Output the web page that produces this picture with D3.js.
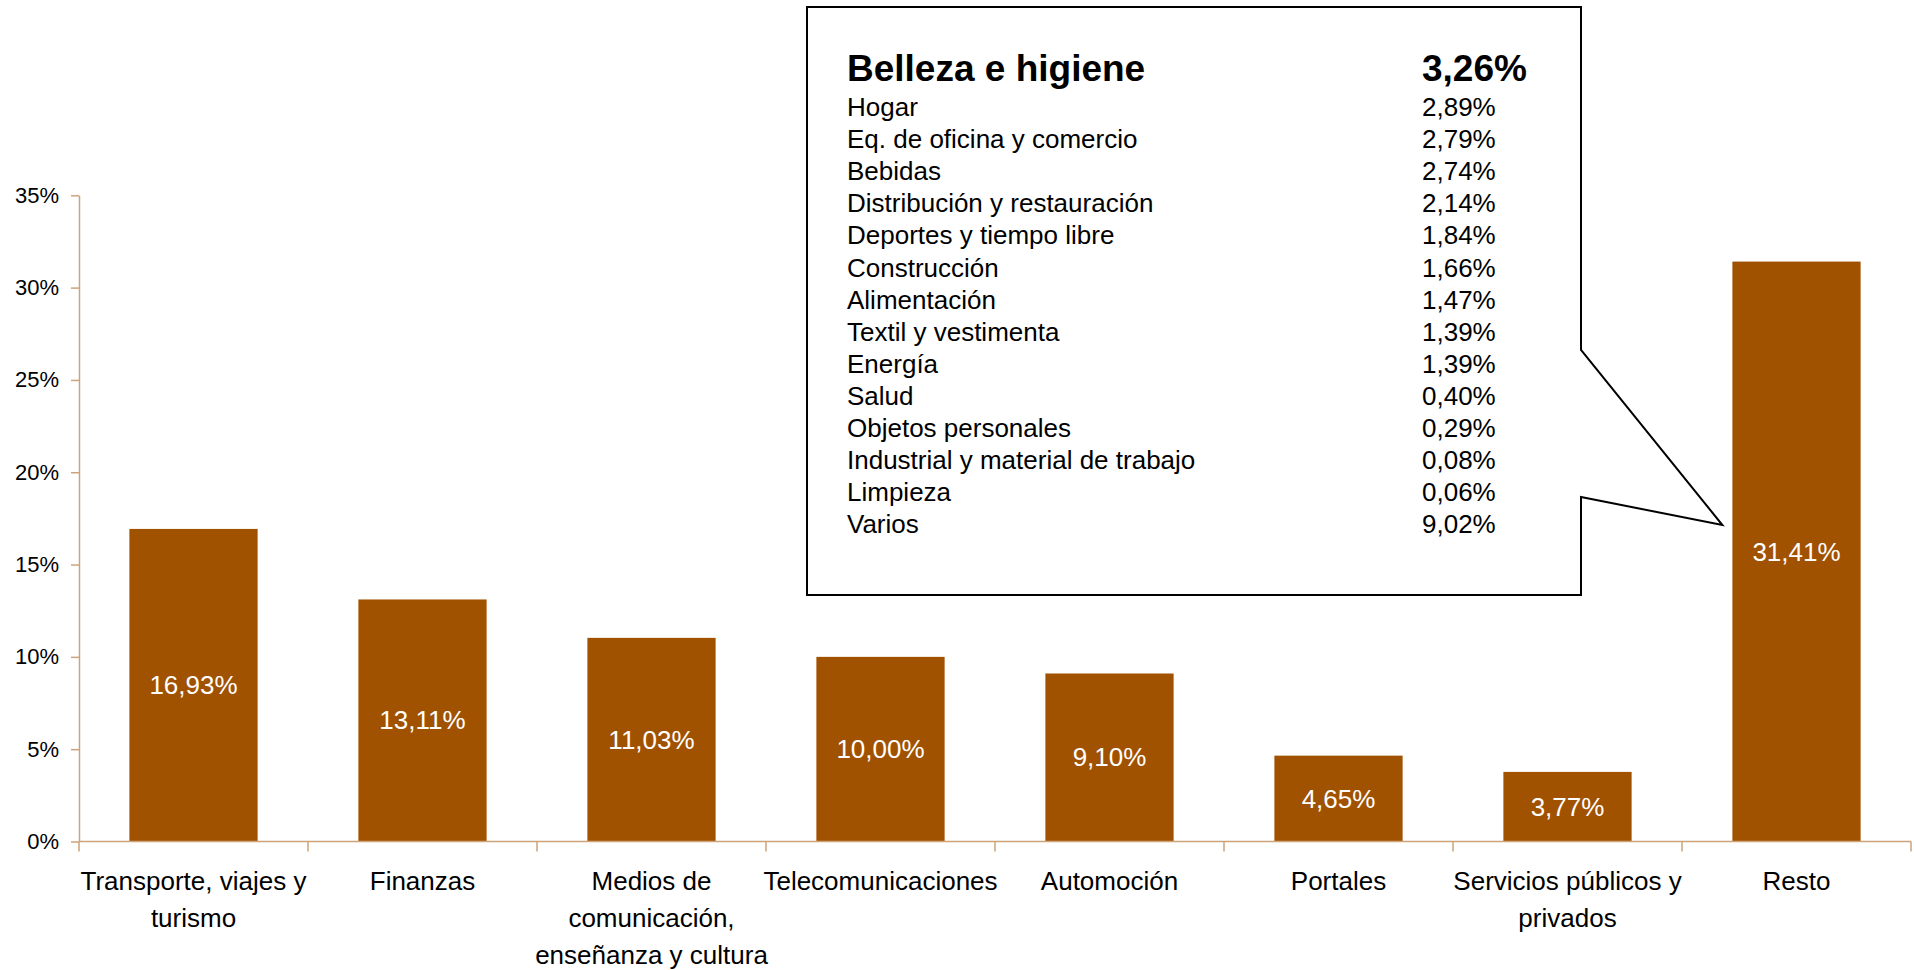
<!DOCTYPE html>
<html>
<head>
<meta charset="utf-8">
<script src="https://cdn.jsdelivr.net/npm/d3@7"></script>
<style>
  body { margin: 0; background: #fff; }
  svg text { font-family: "Liberation Sans", Arial, sans-serif; }
</style>
</head>
<body>
<svg id="chart" width="1914" height="970"></svg>
<script>
// bar data
const categories = ['Transporte, viajes y turismo', 'Finanzas', 'Medios de comunicación, enseñanza y cultura',
    'Telecomunicaciones', 'Automoción', 'Portales', 'Servicios públicos y privados', 'Resto'];
const labelLines = [
    ['Transporte, viajes y', 'turismo'],
    ['Finanzas'],
    ['Medios de', 'comunicación,', 'enseñanza y cultura'],
    ['Telecomunicaciones'],
    ['Automoción'],
    ['Portales'],
    ['Servicios públicos y', 'privados'],
    ['Resto']
];
const values = [16.93, 13.11, 11.03, 10.00, 9.10, 4.65, 3.77, 31.41];
const yTicks = [0, 5, 10, 15, 20, 25, 30, 35];

// breakdown of "Resto" shown in the callout
const restTitle = ['Belleza e higiene', 3.26];
const restNames = ['Hogar', 'Eq. de oficina y comercio', 'Bebidas', 'Distribución y restauración',
    'Deportes y tiempo libre', 'Construcción', 'Alimentación', 'Textil y vestimenta', 'Energía',
    'Salud', 'Objetos personales', 'Industrial y material de trabajo', 'Limpieza', 'Varios'];
const restValues = [2.89, 2.79, 2.74, 2.14, 1.84, 1.66, 1.47, 1.39, 1.39, 0.40, 0.29, 0.08, 0.06, 9.02];

(function () {

    const barColor = '#a05200',
        axisColor = '#cfa37a',
        left = 79, right = 1911,
        top = 195.3, bottom = 841.5,
        svg = d3.select('#chart');

    const fmt = v => v.toFixed(2).replace('.', ',') + '%';

    const x = d3.scaleBand()
        .domain(categories)
        .range([left, right])
        .paddingInner(0.44)
        .paddingOuter(0.22);

    const y = d3.scaleLinear()
        .domain([0, 35])
        .range([bottom, top]);

    // y axis
    const yAxis = svg.append('g')
        .attr('transform', `translate(${left},0)`)
        .call(d3.axisLeft(y)
            .tickValues(yTicks)
            .tickFormat(d => d + '%')
            .tickSize(8)
            .tickSizeOuter(0)
            .tickPadding(12));
    yAxis.select('.domain').attr('stroke', axisColor).attr('stroke-width', 1.5);
    yAxis.selectAll('.tick line').attr('stroke', axisColor).attr('stroke-width', 1.5);
    yAxis.selectAll('.tick text')
        .attr('fill', '#000')
        .style('font-size', '22px')
        .style('font-family', '"Liberation Sans", Arial, sans-serif');

    // bars
    svg.selectAll('rect.bar')
        .data(values)
        .enter()
        .append('rect')
        .attr('class', 'bar')
        .attr('x', (d, i) => x(categories[i]))
        .attr('y', d => y(d))
        .attr('width', x.bandwidth())
        .attr('height', d => y(0) - y(d))
        .attr('fill', barColor);

    // bar labels
    svg.selectAll('text.val')
        .data(values)
        .enter()
        .append('text')
        .attr('class', 'val')
        .attr('x', (d, i) => x(categories[i]) + x.bandwidth() / 2)
        .attr('y', d => (y(d) + y(0)) / 2)
        .attr('text-anchor', 'middle')
        .attr('dominant-baseline', 'central')
        .attr('fill', '#fff')
        .style('font-size', '26px')
        .text(fmt);

    // x axis line + ticks at category boundaries
    const step = x.step();
    svg.append('line')
        .attr('x1', left).attr('x2', right)
        .attr('y1', y(0)).attr('y2', y(0))
        .attr('stroke', axisColor).attr('stroke-width', 1.5);
    svg.selectAll('line.xtick')
        .data(d3.range(categories.length + 1))
        .enter()
        .append('line')
        .attr('class', 'xtick')
        .attr('x1', i => left + i * step).attr('x2', i => left + i * step)
        .attr('y1', y(0)).attr('y2', y(0) + 10)
        .attr('stroke', axisColor).attr('stroke-width', 1.5);

    // category labels
    const catText = svg.selectAll('text.cat')
        .data(labelLines)
        .enter()
        .append('text')
        .attr('class', 'cat')
        .attr('text-anchor', 'middle')
        .attr('fill', '#000')
        .style('font-size', '26px');
    catText.selectAll('tspan')
        .data((d, i) => d.map(line => ({ line, i })))
        .enter()
        .append('tspan')
        .attr('x', d => x(categories[d.i]) + x.bandwidth() / 2)
        .attr('y', (d, j) => 890 + j * 37)
        .text(d => d.line);

    // callout box pointing at "Resto"
    const bx0 = 807, by0 = 7, bx1 = 1581, by1 = 595,
        tipX = x('Resto') - 10,
        tipY = 525;
    const callout = d3.path();
    callout.moveTo(bx0, by0);
    callout.lineTo(bx1, by0);
    callout.lineTo(bx1, 350);
    callout.lineTo(tipX, tipY);
    callout.lineTo(bx1, 497);
    callout.lineTo(bx1, by1);
    callout.lineTo(bx0, by1);
    callout.closePath();
    svg.append('path')
        .attr('d', callout.toString())
        .attr('fill', '#fff')
        .attr('stroke', '#000')
        .attr('stroke-width', 2)
        .attr('stroke-linejoin', 'miter');

    const nameX = 847, valX = 1422;

    svg.append('text')
        .attr('x', nameX).attr('y', 81)
        .style('font-size', '37px').style('font-weight', 'bold')
        .text(restTitle[0]);
    svg.append('text')
        .attr('x', valX).attr('y', 81)
        .style('font-size', '37px').style('font-weight', 'bold')
        .text(fmt(restTitle[1]));

    const rows = svg.selectAll('g.row')
        .data(restNames)
        .enter()
        .append('g')
        .attr('class', 'row')
        .attr('transform', (d, i) => `translate(0,${116 + i * 32.1})`);
    rows.append('text')
        .attr('x', nameX)
        .style('font-size', '26px')
        .text(d => d);
    rows.append('text')
        .attr('x', valX)
        .style('font-size', '26px')
        .text((d, i) => fmt(restValues[i]));

}());
</script>
</body>
</html>
